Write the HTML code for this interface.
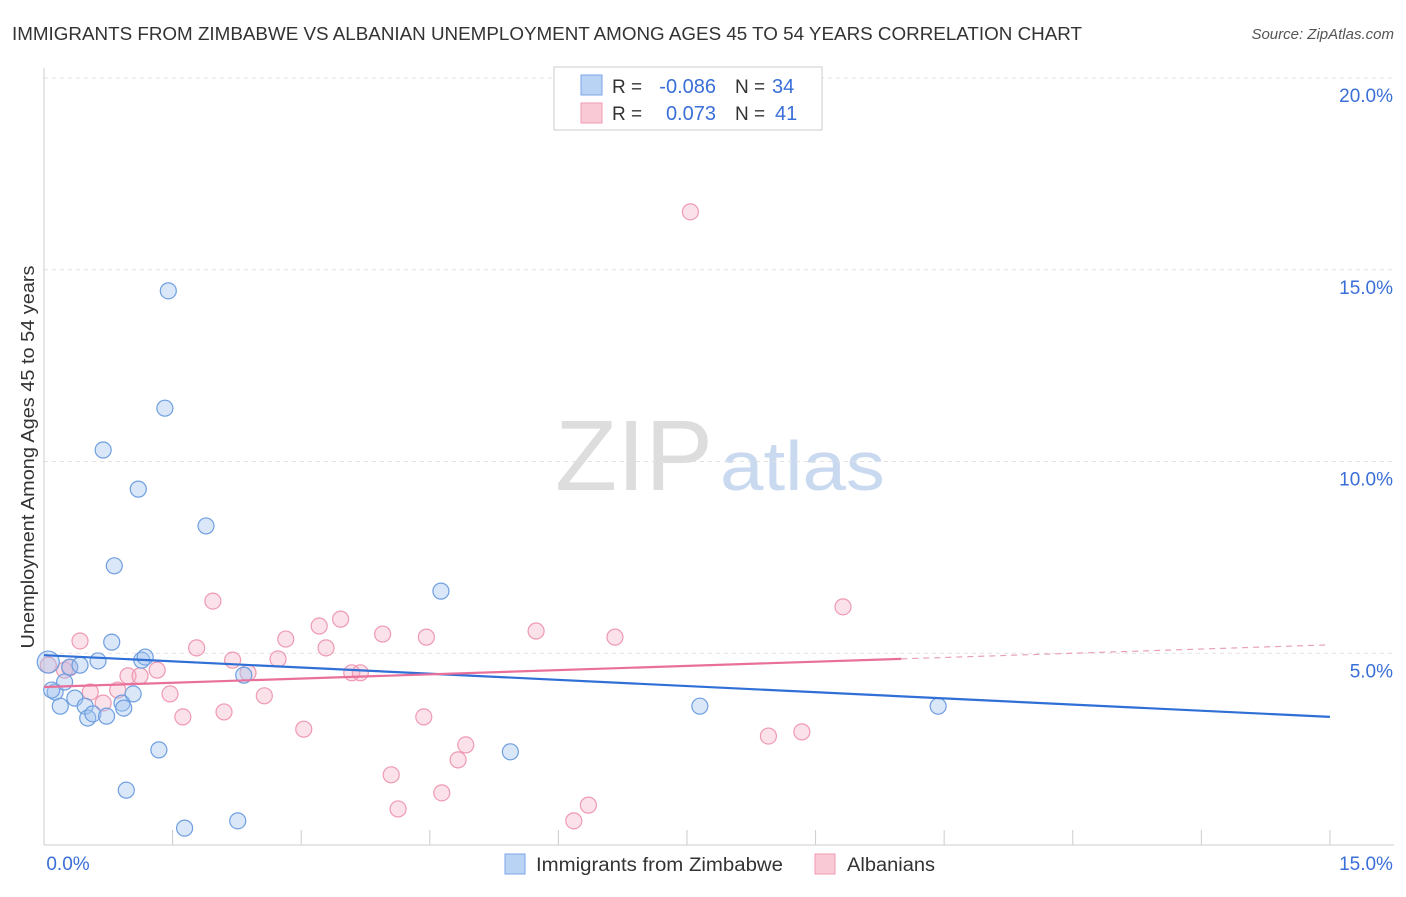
<!DOCTYPE html>
<html><head><meta charset="utf-8"><style>
body{margin:0;background:#fff;font-family:"Liberation Sans",sans-serif;}
svg text{font-family:"Liberation Sans",sans-serif;}
</style></head><body>
<svg id="chart" width="1406" height="892" viewBox="0 0 1406 892" xmlns="http://www.w3.org/2000/svg">
<text x="12" y="40" font-size="18" fill="#333" textLength="1070" lengthAdjust="spacingAndGlyphs">IMMIGRANTS FROM ZIMBABWE VS ALBANIAN UNEMPLOYMENT AMONG AGES 45 TO 54 YEARS CORRELATION CHART</text>
<text x="1394" y="39" font-size="15" fill="#555" font-style="italic" text-anchor="end">Source: ZipAtlas.com</text>
<text transform="translate(34,457) rotate(-90)" font-size="18" fill="#333" text-anchor="middle" textLength="383" lengthAdjust="spacingAndGlyphs">Unemployment Among Ages 45 to 54 years</text>
<text x="555" y="490" font-size="100" fill="#ddd" font-family="Liberation Serif" textLength="158" lengthAdjust="spacingAndGlyphs">ZIP</text>
<text x="720" y="490" font-size="70" fill="#c9d9f0" textLength="165" lengthAdjust="spacingAndGlyphs">atlas</text>
<g id="grid"></g><g id="marks"></g>
<g>
<rect x="554" y="67" width="268" height="63" fill="#fff" stroke="#ccc"/>
<rect x="581" y="75" width="21" height="20" fill="#b9d3f5" stroke="#7aa6e8"/>
<rect x="581" y="103" width="21" height="20" fill="#f9c9d6" stroke="#ee9ab1"/>
<text x="612" y="93" font-size="19" fill="#333">R =</text>
<text x="716" y="93" font-size="20" fill="#3a6fd8" text-anchor="end">-0.086</text>
<text x="735" y="93" font-size="19" fill="#333">N =</text>
<text x="772" y="93" font-size="20" fill="#3a6fd8">34</text>
<text x="612" y="120" font-size="19" fill="#333">R =</text>
<text x="716" y="120" font-size="20" fill="#3a6fd8" text-anchor="end">0.073</text>
<text x="735" y="120" font-size="19" fill="#333">N =</text>
<text x="775" y="120" font-size="20" fill="#3a6fd8">41</text>
</g>
<g>
<rect x="505" y="854" width="20" height="20" fill="#b9d3f5" stroke="#7aa6e8"/>
<text x="536" y="871" font-size="19" fill="#333" textLength="247" lengthAdjust="spacingAndGlyphs">Immigrants from Zimbabwe</text>
<rect x="815" y="854" width="20" height="20" fill="#f9c9d6" stroke="#ee9ab1"/>
<text x="847" y="871" font-size="19" fill="#333" textLength="88" lengthAdjust="spacingAndGlyphs">Albanians</text>
</g>
</svg>
<script>
const blueX=[0.05,0.13,0.19,0.24,0.30,0.36,0.42,0.48,0.51,0.57,0.63,0.69,0.73,0.79,0.82,0.91,0.93,0.96,1.04,1.10,1.14,1.18,1.34,1.41,1.45,1.64,1.89,2.26,2.33,4.63,5.44,7.65,10.43,0.09];
const blueY=[4.77,3.99,3.62,4.25,4.64,3.83,4.69,3.62,3.31,3.42,4.80,10.30,3.36,5.29,7.28,3.70,3.57,1.43,3.94,9.28,4.82,4.90,2.48,11.39,14.45,0.44,8.32,0.63,4.43,6.62,2.43,3.62,3.62,4.04];
const pinkX=[0.05,0.24,0.30,0.42,0.54,0.69,0.86,0.98,1.12,1.32,1.47,1.62,1.78,1.97,2.10,2.20,2.38,2.57,2.73,2.82,3.03,3.21,3.29,3.46,3.59,3.69,3.95,4.05,4.13,4.43,4.46,4.64,4.83,4.92,5.74,6.18,6.35,6.66,7.54,8.45,8.84,9.32];
const pinkY=[4.69,4.56,4.62,5.32,3.99,3.70,4.04,4.41,4.41,4.56,3.94,3.34,5.14,6.36,3.47,4.82,4.49,3.89,4.85,5.37,3.02,5.71,5.14,5.89,4.49,4.49,5.50,1.83,0.94,3.34,5.42,1.36,2.22,2.61,5.58,0.63,1.04,5.42,16.51,2.84,2.95,6.21];
const blueTrend=[4.95,3.34];
const pinkTrend=[4.12,5.22];
const pinkSolidEnd=10.0;
const yTicks=[5,10,15,20];
const yTickLabels=["5.0%","10.0%","15.0%","20.0%"];
const xTicks=[0,1.5,3,4.5,6,7.5,9,10.5,12,13.5,15];
const NS="http://www.w3.org/2000/svg";
const sx=v=>44+v*85.73, sy=v=>845-v*38.35;
function mk(tag,attrs,parent){const e=document.createElementNS(NS,tag);for(const k in attrs)e.setAttribute(k,attrs[k]);parent.appendChild(e);return e;}
const grid=document.getElementById('grid'), marks=document.getElementById('marks');
yTicks.forEach((t,i)=>{
  const l=mk('line',{x1:44,x2:1394,y1:sy(t),y2:sy(t),stroke:'#e2e2e2','stroke-dasharray':'4,4'},grid);
  
  
  const tx=mk('text',{x:1393,y:sy(t)+24,'font-size':19,fill:'#3a6fd8','text-anchor':'end'},grid);
  tx.textContent=yTickLabels[i];
  
  
});
const ax=mk('line',{x1:44,x2:44,y1:68,y2:845,stroke:'#ccc'},grid);


const bx=mk('line',{x1:44,x2:1394,y1:845,y2:845,stroke:'#ccc'},grid);


xTicks.forEach(t=>{
  const l=mk('line',{x1:sx(t),x2:sx(t),y1:830,y2:845,stroke:'#ccc'},grid);
  
  
});
const x0=mk('text',{x:68,y:870,'font-size':19,fill:'#3a6fd8','text-anchor':'middle'},grid);x0.textContent='0.0%';


const x1=mk('text',{x:1366,y:870,'font-size':19,fill:'#3a6fd8','text-anchor':'middle'},grid);x1.textContent='15.0%';


pinkX.forEach((x,i)=>{
  const c=mk('circle',{cx:sx(x),cy:sy(pinkY[i]),r:8,fill:'rgba(244,170,195,0.35)',stroke:'#ee9ab1','stroke-width':1.2},marks);
  
  
});
blueX.forEach((x,i)=>{
  const c=mk('circle',{cx:sx(x),cy:sy(blueY[i]),r:i===0?11:8,fill:'rgba(160,196,240,0.4)',stroke:'#6f9fe0','stroke-width':1.2},marks);
  
  
});
const bt=mk('line',{x1:sx(0),y1:sy(blueTrend[0]),x2:sx(15),y2:sy(blueTrend[1]),stroke:'#2f6fd6','stroke-width':2.2},marks);


const pAt=x=>pinkTrend[0]+(pinkTrend[1]-pinkTrend[0])*x/15;
const pt=mk('line',{x1:sx(0),y1:sy(pAt(0)),x2:sx(pinkSolidEnd),y2:sy(pAt(pinkSolidEnd)),stroke:'#e8709a','stroke-width':2.2},marks);


const pd=mk('line',{x1:sx(pinkSolidEnd),y1:sy(pAt(pinkSolidEnd)),x2:sx(15),y2:sy(pAt(15)),stroke:'#e8a0b8','stroke-width':1.2,'stroke-dasharray':'6,5'},marks);


</script>
</body></html>
